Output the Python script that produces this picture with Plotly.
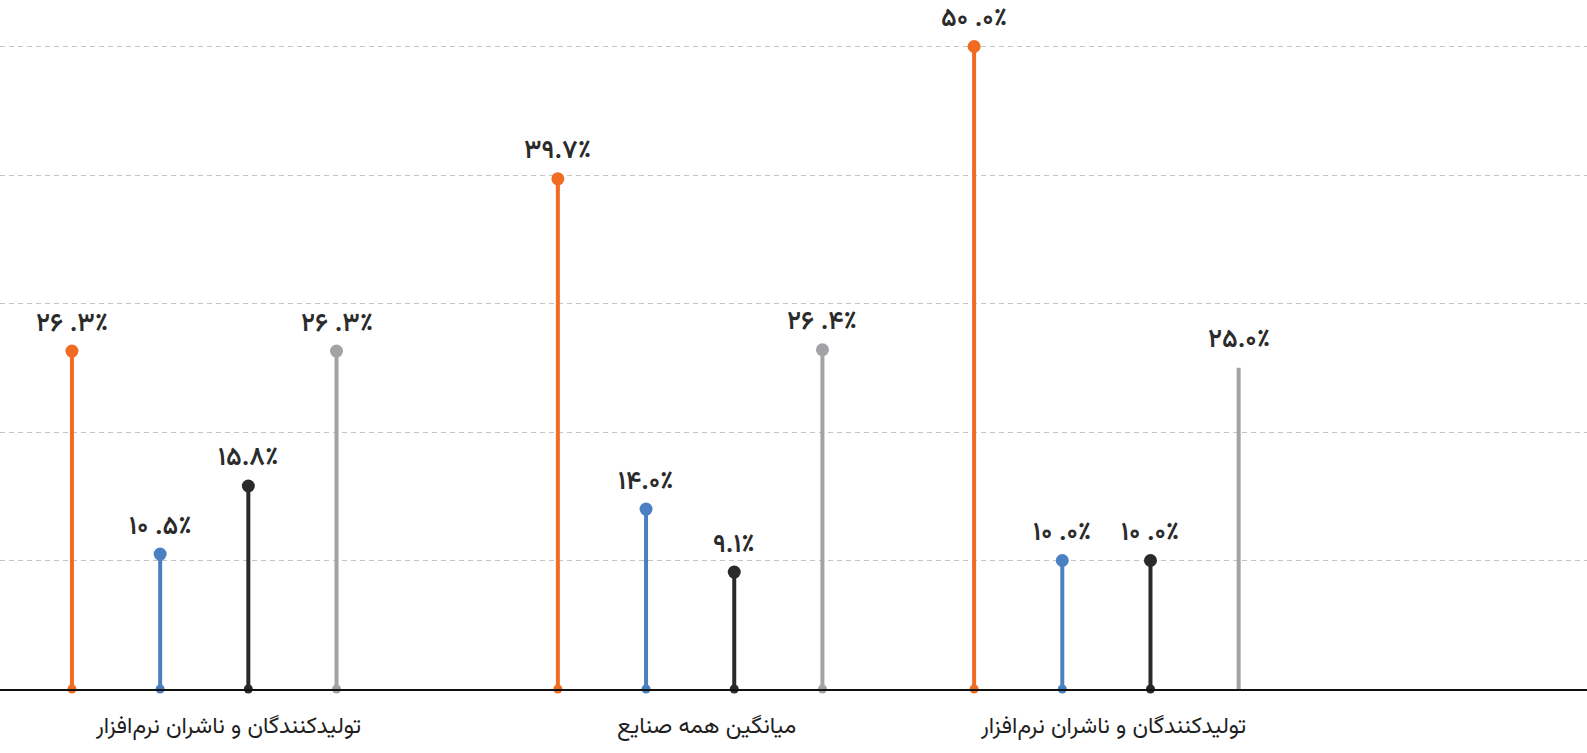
import plotly.graph_objects as go

# Category labels (one per group) and the four series values per group (percent)
groups = [
    "تولیدکنندگان و ناشران نرم\u200cافزار",
    "میانگین همه صنایع",
    "تولیدکنندگان و ناشران نرم\u200cافزار",
]
orange_vals = [26.3, 39.7, 50.0]
blue_vals = [10.5, 14.0, 10.0]
black_vals = [15.8, 9.1, 10.0]
gray_vals = [26.3, 26.4, 25.0]

orange_labels = ["۲۶ .۳٪", "۳۹.۷٪", "۵۰ .۰٪"]
blue_labels = ["۱۰ .۵٪", "۱۴.۰٪", "۱۰ .۰٪"]
black_labels = ["۱۵.۸٪", "۹.۱٪", "۱۰ .۰٪"]
gray_labels = ["۲۶ .۳٪", "۲۶ .۴٪", "۲۵.۰٪"]

gridlines = [10, 20, 30, 40, 50]

# ---- layout constants ----
W, H = 1587, 753
BOTTOM = 64
group_anchor = [0.0, 5.51, 10.23]      # x of the first stem in each group
group_label_x = [1.77, 7.20, 11.80]    # centre of each category caption
x_range = [-0.816, 17.18]
y_range = [0, 53.62]
FONT = "Vazirmatn, 'DejaVu Sans', sans-serif"

series = [
    ("orange", orange_vals, orange_labels, "#F26B22"),
    ("blue", blue_vals, blue_labels, "#4A80C2"),
    ("black", black_vals, black_labels, "#2A2A2A"),
    ("gray", gray_vals, gray_labels, "#A3A3A7"),
]
# stems drawn without end dots: (series index, group index)
plain_stems = {(3, 2)}

fig = go.Figure()
annotations = []

for si, (name, vals, labs, color) in enumerate(series):
    xs = [group_anchor[g] + si for g in range(len(vals))]
    sx, sy = [], []
    for x, v in zip(xs, vals):
        sx += [x, x, None]
        sy += [0, v, None]
    fig.add_trace(go.Scatter(
        x=sx, y=sy, mode="lines", name=name,
        line=dict(color=color, width=4), hoverinfo="skip", showlegend=False,
        cliponaxis=False,
    ))
    dot_op = [0 if (si, g) in plain_stems else 1 for g in range(len(vals))]
    fig.add_trace(go.Scatter(
        x=xs, y=[0] * len(vals), mode="markers", name=name,
        marker=dict(color=color, size=9, opacity=dot_op, line=dict(width=0)),
        showlegend=False, cliponaxis=False,
    ))
    fig.add_trace(go.Scatter(
        x=xs, y=vals, mode="markers", name=name,
        marker=dict(color=color, size=13, opacity=dot_op, line=dict(width=0)),
        showlegend=False, cliponaxis=False,
    ))
    for x, v, t in zip(xs, vals, labs):
        annotations.append(dict(
            x=x, y=v, xref="x", yref="y", text=t, showarrow=False,
            yshift=27, font=dict(family=FONT, size=26, color="#2b2b2b", weight=600),
        ))

for gx, name in zip(group_label_x, groups):
    annotations.append(dict(
        x=gx, y=0, xref="x", yref="y", text=name, showarrow=False,
        yshift=-38, font=dict(family=FONT, size=23, color="#1f1f1f"),
    ))

fig.update_layout(
    width=W, height=H,
    margin=dict(l=0, r=0, t=0, b=BOTTOM),
    paper_bgcolor="white", plot_bgcolor="white",
    annotations=annotations,
    xaxis=dict(
        range=x_range, showgrid=False, zeroline=False, showticklabels=False,
        showline=True, linecolor="#111111", linewidth=2, ticks="",
    ),
    yaxis=dict(
        range=y_range, tickvals=gridlines, showticklabels=False,
        showgrid=True, gridcolor="#c4c4c4", gridwidth=1, griddash="5px,4px",
        zeroline=False, showline=False,
    ),
)

fig.write_html("out.html")
